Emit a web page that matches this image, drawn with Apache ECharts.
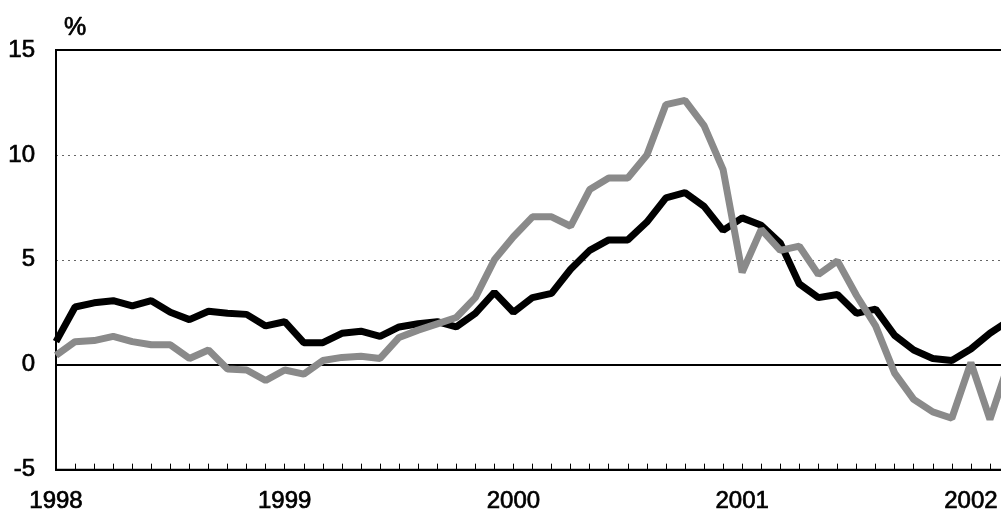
<!DOCTYPE html>
<html>
<head>
<meta charset="utf-8">
<script src="https://cdn.jsdelivr.net/npm/echarts@6/dist/echarts.min.js"></script>
<style>html,body{margin:0;padding:0;background:#fff;overflow:hidden;width:1001px;height:514px;}#c{width:1009px;height:514px;}</style>
</head>
<body>
<div id="c"></div>
<script>
var months = [];
(function(){ for (var y = 1998; y <= 2002; y++) { for (var m = 1; m <= 12; m++) { if (months.length < 51) months.push(y + '-' + (m < 10 ? '0' + m : m)); } } })();
var blackSeries = [1.1,2.75,2.95,3.05,2.8,3.05,2.5,2.15,2.55,2.45,2.4,1.85,
  2.05,1.05,1.05,1.5,1.6,1.35,1.8,1.95,2.05,1.8,2.45,3.45,
  2.5,3.2,3.4,4.55,5.45,5.95,5.95,6.8,7.95,8.2,7.55,6.4,
  7.0,6.65,5.8,3.85,3.2,3.35,2.45,2.65,1.4,0.7,0.3,0.2,
  0.75,1.5,2.1];
var greySeries = [0.45,1.1,1.15,1.35,1.1,0.95,0.95,0.3,0.7,-0.2,-0.25,-0.75,
  -0.25,-0.45,0.2,0.35,0.4,0.3,1.3,1.65,1.95,2.25,3.2,5.0,
  6.1,7.05,7.05,6.6,8.35,8.9,8.9,10.0,12.4,12.6,11.4,9.3,
  4.4,6.45,5.45,5.65,4.3,4.95,3.3,1.85,-0.4,-1.65,-2.25,-2.55,
  0.1,-2.6,0.1];
var yTicks = [-5, 0, 5, 10, 15];

var txt = { fontFamily: 'Liberation Sans', fontSize: 24, color: '#000', textBorderColor: '#000', textBorderWidth: 0.7 };

var chart = echarts.init(document.getElementById('c'));
chart.setOption({
  animation: false,
  backgroundColor: '#fff',
  title: { text: '%', left: 59, top: 11, textStyle: { fontFamily: 'Liberation Sans', fontSize: 25, fontWeight: 'normal', color: '#000', textBorderColor: '#000', textBorderWidth: 0.7 } },
  grid: { left: 56, right: 0, top: 50, bottom: 43, show: true, borderColor: '#000', borderWidth: 2, containLabel: false },
  xAxis: {
    type: 'category', data: months, boundaryGap: false,
    axisLine: { show: true, onZero: false, lineStyle: { color: '#000', width: 2 } },
    axisTick: { show: true, inside: true, length: 6, interval: 0, lineStyle: { color: '#000', width: 1 } },
    axisLabel: Object.assign({
      interval: function (idx) { return idx % 12 === 0; },
      formatter: function (v) { return v.slice(5) === '01' ? v.slice(0, 4) : ''; },
      margin: 20
    }, txt),
    splitLine: { show: false }
  },
  yAxis: {
    type: 'value', min: yTicks[0], max: yTicks[yTicks.length - 1], interval: 5,
    axisLine: { show: true, lineStyle: { color: '#000', width: 2 } },
    axisTick: { show: false },
    axisLabel: Object.assign({ margin: 21 }, txt),
    splitLine: { show: true, showMinLine: false, showMaxLine: false, lineStyle: { color: '#666', type: [2, 4], width: 1 } }
  },
  series: [
    {
      type: 'line', data: blackSeries, symbol: 'none', z: 3,
      lineStyle: { color: '#000', width: 7 },
      markLine: { silent: true, symbol: 'none', label: { show: false }, z: 1,
        lineStyle: { color: '#000', type: 'solid', width: 2 }, data: [{ yAxis: 0 }] }
    },
    {
      type: 'line', data: greySeries, symbol: 'none', z: 4,
      lineStyle: { color: '#8a8a8a', width: 7 }
    }
  ]
});
</script>
</body>
</html>
